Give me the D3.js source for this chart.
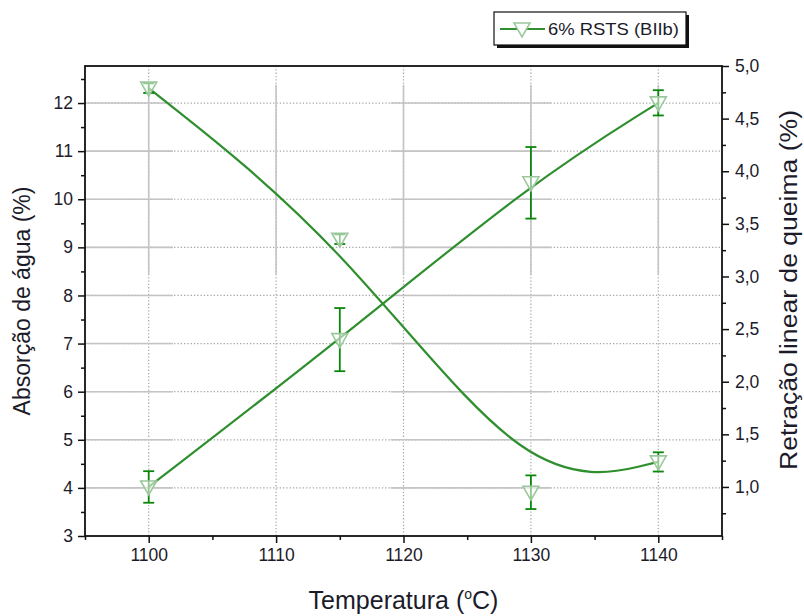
<!DOCTYPE html>
<html>
<head>
<meta charset="utf-8">
<script src="https://cdn.jsdelivr.net/npm/d3@7"></script>
<style>
  html, body { margin: 0; padding: 0; background: #fff; }
  svg { display: block; }
  text { font-family: "Liberation Sans", Arial, sans-serif; fill: #1b1b2a; }
</style>
</head>
<body>
<svg id="chart" width="804" height="616"></svg>
<script>
// Firing temperature (°C)
const temperatures = [1100, 1115, 1130, 1140];
// Water absorption (%) – left axis
const absorption = [12.31, 9.17, 3.91, 4.54];
const absorptionErr = [0.1, 0.1, 0.35, 0.2];
// Linear firing shrinkage (%) – right axis
const shrinkage = [1.0, 2.4, 3.89, 4.65];
const shrinkageErr = [0.15, 0.3, 0.34, 0.12];

const xTicks = [1100, 1110, 1120, 1130, 1140];
const xMinorTicks = [1095, 1105, 1115, 1125, 1135, 1145];
const leftTicks = [3, 4, 5, 6, 7, 8, 9, 10, 11, 12];
const leftMinorTicks = [3.5, 4.5, 5.5, 6.5, 7.5, 8.5, 9.5, 10.5, 11.5, 12.5];
const rightTicks = [1.0, 1.5, 2.0, 2.5, 3.0, 3.5, 4.0, 4.5, 5.0];
const rightMinorTicks = [0.75, 1.25, 1.75, 2.25, 2.75, 3.25, 3.75, 4.25, 4.75];
const seriesLabel = "6% RSTS (BIIb)";

const svg = d3.select("#chart");
const L = 85, R = 722, T = 66, B = 536;

const x = d3.scaleLinear().domain([1095, 1145]).range([L, R]);
const yL = d3.scaleLinear().domain([3, 12.77]).range([B, T]);
const yR = d3.scaleLinear().domain([0.534, 5.0]).range([B, T]);

const lineColor = "#2f8f2f";
const barColor = "#0a870a";
const markerStroke = "#9cc79c";

// ---- grid ----
const grid = svg.append("g");
// dotted grid across the whole plot
grid.selectAll(".hd").data(leftTicks.filter(v => v > 3)).join("line")
  .attr("x1", L).attr("x2", R).attr("y1", d => yL(d)).attr("y2", d => yL(d))
  .attr("stroke", "#a6a6a6").attr("stroke-width", 1.2).attr("stroke-dasharray", "1.3,2");
grid.selectAll(".vd").data(xTicks).join("line")
  .attr("x1", d => x(d)).attr("x2", d => x(d)).attr("y1", T).attr("y2", B)
  .attr("stroke", "#a6a6a6").attr("stroke-width", 1.2).attr("stroke-dasharray", "1.3,2");
// solid grid patches
const hSpans = [[1095, 1101.9], [1119.0, 1131.6]];
hSpans.forEach(([a, b]) => {
  grid.append("g").selectAll("line").data(leftTicks.filter(v => v > 3)).join("line")
    .attr("x1", x(a)).attr("x2", x(b)).attr("y1", d => yL(d)).attr("y2", d => yL(d))
    .attr("stroke", "#c4c4c4").attr("stroke-width", 1.6);
});
grid.append("g").selectAll("line").data(xTicks).join("line")
  .attr("x1", d => x(d)).attr("x2", d => x(d)).attr("y1", yL(12.38)).attr("y2", yL(8.43))
  .attr("stroke", "#c4c4c4").attr("stroke-width", 1.6);

// ---- curves ----
const absLine = d3.line().x((d, i) => x(temperatures[i])).y(d => yL(d)).curve(d3.curveBasis);
const shrLine = d3.line().x((d, i) => x(temperatures[i])).y(d => yR(d)).curve(d3.curveBasis);
svg.append("path").attr("d", absLine(absorption)).attr("fill", "none")
  .attr("stroke", lineColor).attr("stroke-width", 2.2);
svg.append("path").attr("d", shrLine(shrinkage)).attr("fill", "none")
  .attr("stroke", lineColor).attr("stroke-width", 2.2);

// ---- error bars ----
function errorBars(values, errs, y) {
  const g = svg.append("g").attr("stroke", barColor).attr("stroke-width", 1.8);
  values.forEach((v, i) => {
    const cx = x(temperatures[i]);
    const y1 = y(v + errs[i]), y2 = y(v - errs[i]);
    g.append("line").attr("x1", cx).attr("x2", cx).attr("y1", y1).attr("y2", y2);
    g.append("line").attr("x1", cx - 5.5).attr("x2", cx + 5.5).attr("y1", y1).attr("y2", y1);
    g.append("line").attr("x1", cx - 5.5).attr("x2", cx + 5.5).attr("y1", y2).attr("y2", y2);
  });
}
errorBars(absorption, absorptionErr, yL);
errorBars(shrinkage, shrinkageErr, yR);

// ---- markers (hollow down triangles) ----
const tri = "M-8,-6L8,-6L0,8Z";
function markers(values, y) {
  svg.append("g").selectAll("path").data(values).join("path")
    .attr("d", tri)
    .attr("transform", (d, i) => `translate(${x(temperatures[i])},${y(d)})`)
    .attr("fill", "#fff").attr("fill-opacity", 0.55)
    .attr("stroke", markerStroke).attr("stroke-width", 1.6);
}
markers(absorption, yL);
markers(shrinkage, yR);

// ---- axes ----
const axisStyle = g => {
  g.selectAll(".domain").remove();
  g.selectAll("line").attr("stroke", "#111").attr("stroke-width", 1.5);
  g.selectAll("text").style("font-size", "17.5px").attr("fill", "#1b1b2a");
};
svg.append("g").attr("transform", `translate(0,${B})`)
  .call(d3.axisBottom(x).tickValues(xTicks).tickSize(7).tickPadding(6).tickFormat(d3.format("d")))
  .call(axisStyle);
svg.append("g").attr("transform", `translate(0,${B})`)
  .call(d3.axisBottom(x).tickValues(xMinorTicks).tickSize(4).tickFormat(""))
  .call(axisStyle);
svg.append("g").attr("transform", `translate(${L},0)`)
  .call(d3.axisLeft(yL).tickValues(leftTicks).tickSize(7).tickPadding(5).tickFormat(d3.format("d")))
  .call(axisStyle);
svg.append("g").attr("transform", `translate(${L},0)`)
  .call(d3.axisLeft(yL).tickValues(leftMinorTicks).tickSize(4).tickFormat(""))
  .call(axisStyle);
svg.append("g").attr("transform", `translate(${R},0)`)
  .call(d3.axisRight(yR).tickValues(rightTicks).tickSize(7).tickPadding(6)
    .tickFormat(d => d3.format(".1f")(d).replace(".", ",")))
  .call(axisStyle);
svg.append("g").attr("transform", `translate(${R},0)`)
  .call(d3.axisRight(yR).tickValues(rightMinorTicks).tickSize(4).tickFormat(""))
  .call(axisStyle);

// plot frame
svg.append("rect").attr("x", L).attr("y", T).attr("width", R - L).attr("height", B - T)
  .attr("fill", "none").attr("stroke", "#111").attr("stroke-width", 1.8);

// ---- axis titles ----
svg.append("text").attr("transform", `translate(30,${(T + B) / 2}) rotate(-90)`)
  .attr("text-anchor", "middle").style("font-size", "23px").text("Absorção de água (%)");
svg.append("text").attr("transform", `translate(797,290) rotate(-90)`)
  .attr("text-anchor", "middle").style("font-size", "23px")
  .attr("textLength", 360).attr("lengthAdjust", "spacingAndGlyphs")
  .text("Retração linear de queima (%)");
const xt = svg.append("text").attr("x", (L + R) / 2).attr("y", 609)
  .attr("text-anchor", "middle").style("font-size", "25px")
  .style("font-family", "'Liberation Sans Narrow', 'Liberation Sans', Arial, sans-serif");
xt.append("tspan").text("Temperatura (");
xt.append("tspan").attr("dy", -10).style("font-size", "14px").text("o");
xt.append("tspan").attr("dy", 10).text("C)");

// ---- legend ----
const lg = svg.append("g");
lg.append("rect").attr("x", 497).attr("y", 15).attr("width", 192).attr("height", 33).attr("fill", "#111");
lg.append("rect").attr("x", 494).attr("y", 12).attr("width", 192).attr("height", 33)
  .attr("fill", "#fff").attr("stroke", "#111").attr("stroke-width", 1.2);
lg.append("line").attr("x1", 500).attr("x2", 545).attr("y1", 29).attr("y2", 29)
  .attr("stroke", lineColor).attr("stroke-width", 2.2);
lg.append("path").attr("d", tri).attr("transform", "translate(522,29)")
  .attr("fill", "#fff").attr("stroke", markerStroke).attr("stroke-width", 1.6);
lg.append("text").attr("x", 548).attr("y", 35).style("font-size", "17px")
  .attr("textLength", 131).attr("lengthAdjust", "spacingAndGlyphs").text(seriesLabel);
</script>
</body>
</html>
